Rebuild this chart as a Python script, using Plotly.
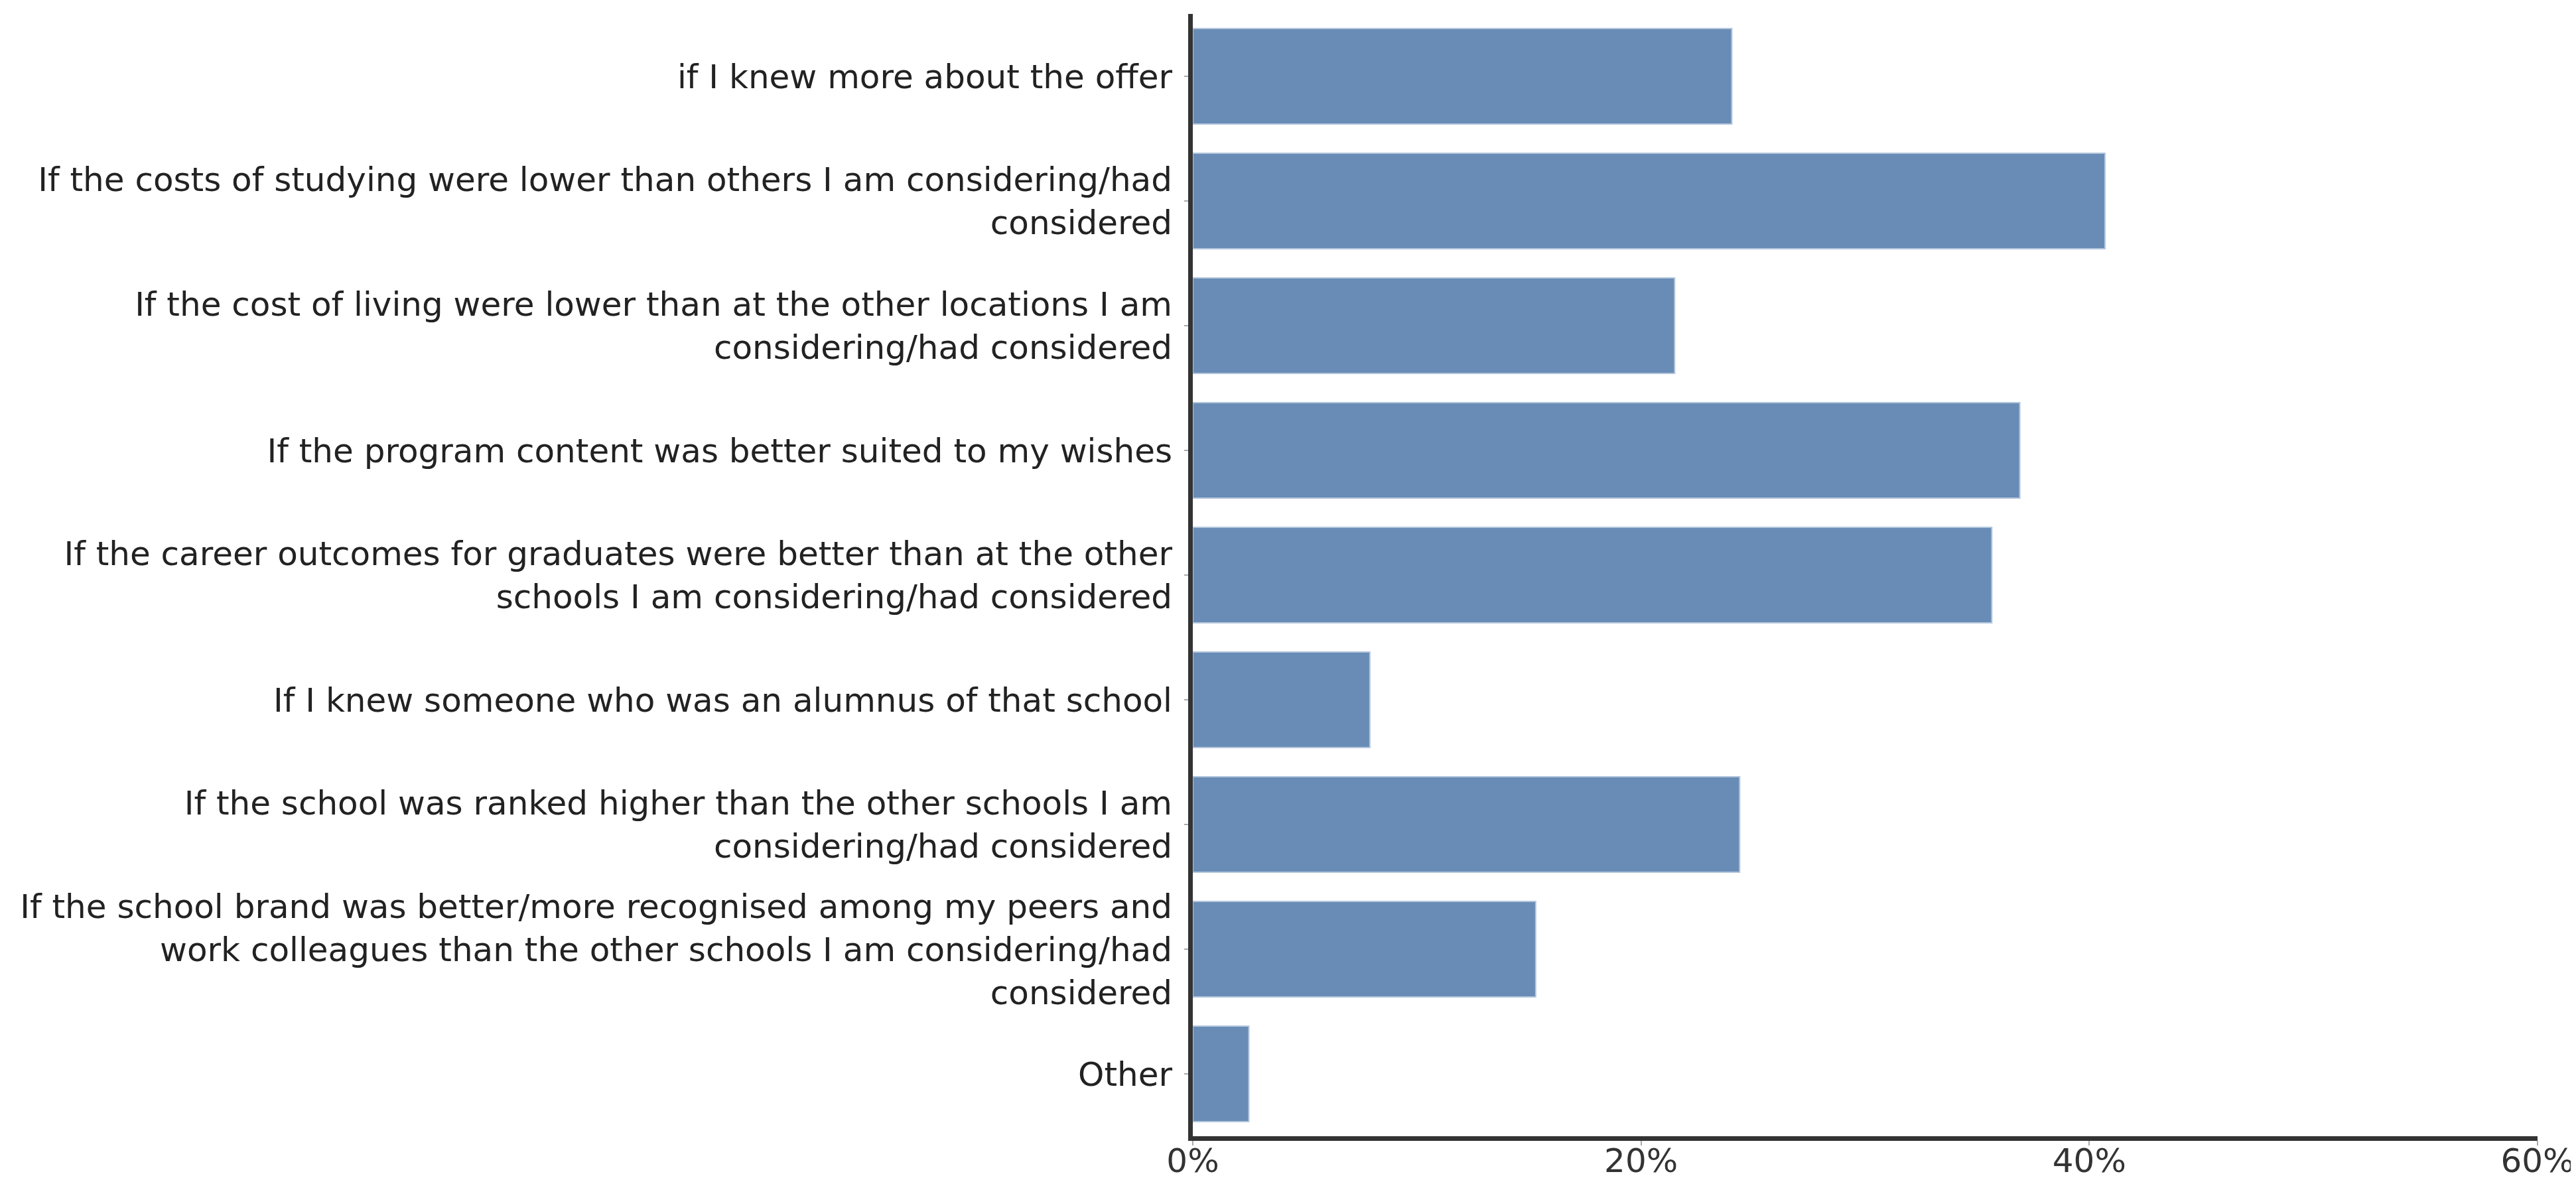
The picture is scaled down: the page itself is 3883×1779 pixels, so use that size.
import plotly.graph_objects as go

categories = [
    "if I knew more about the offer",
    "If the costs of studying were lower than others I am considering/had<br>considered",
    "If the cost of living were lower than at the other locations I am<br>considering/had considered",
    "If the program content was better suited to my wishes",
    "If the career outcomes for graduates were better than at the other<br>schools I am considering/had considered",
    "If I knew someone who was an alumnus of that school",
    "If the school was ranked higher than the other schools I am<br>considering/had considered",
    "If the school brand was better/more recognised among my peers and<br>work colleagues than the other schools I am considering/had<br>considered",
    "Other",
]
values = [24.05, 40.7, 21.5, 36.9, 35.65, 7.9, 24.4, 15.3, 2.5]
x_tick_values = [0, 20, 40, 60]
x_tick_labels = ["0%", "20%", "40%", "60%"]

fig = go.Figure(
    go.Bar(
        x=values,
        y=categories,
        orientation="h",
        marker=dict(color="#688cb5", line=dict(color="#b3c6dd", width=2)),
        hoverinfo="x+y",
    )
)

font_family = "DejaVu Sans"
fig.update_layout(
    width=3883,
    height=1779,
    margin=dict(l=1790, r=66, t=13, b=74, autoexpand=False),
    paper_bgcolor="white",
    plot_bgcolor="white",
    bargap=0.235,
    showlegend=False,
    font=dict(family=font_family, size=50, color="#222222"),
)
fig.update_xaxes(
    range=[0, 60],
    tickvals=x_tick_values,
    ticktext=x_tick_labels,
    automargin=False,
    showgrid=False,
    zeroline=False,
    showline=True,
    linecolor="#333333",
    linewidth=7,
    ticks="outside",
    ticklen=7,
    tickwidth=2,
    tickcolor="#aaaaaa",
    tickfont=dict(family=font_family, size=50, color="#333333"),
    ticklabelstandoff=-20,
)
fig.update_yaxes(
    autorange="reversed",
    automargin=False,
    showgrid=False,
    zeroline=False,
    showline=True,
    linecolor="#333333",
    linewidth=7,
    ticks="outside",
    ticklen=6,
    tickwidth=2,
    tickcolor="#aaaaaa",
    tickfont=dict(family=font_family, size=50, color="#222222"),
    ticklabelstandoff=8,
)

fig.write_html("out.html")
